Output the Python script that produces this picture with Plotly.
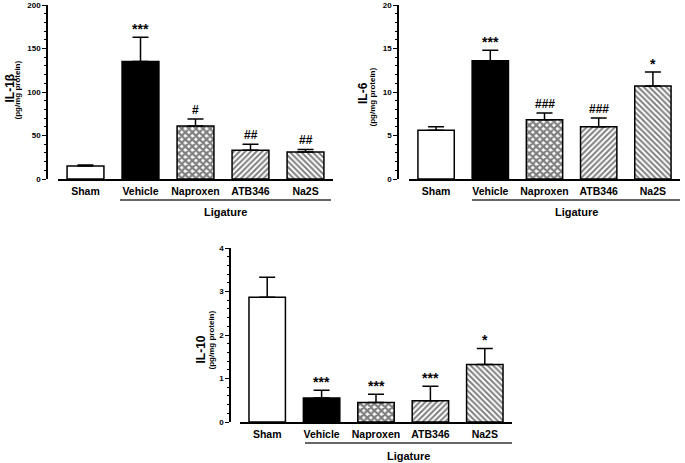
import plotly.graph_objects as go

W, H = 685, 463

categories = ["Sham", "Vehicle", "Naproxen", "ATB346", "Na2S"]

il1b = [15, 135, 61, 33, 31]
il1b_err = [1, 28, 8, 7, 3]
il1b_sig = ["", "***", "#", "##", "##"]

il6 = [5.6, 13.6, 6.8, 6.0, 10.7]
il6_err = [0.4, 1.2, 0.8, 1.0, 1.6]
il6_sig = ["", "***", "###", "###", "*"]

il10 = [2.87, 0.55, 0.45, 0.49, 1.32]
il10_err = [0.46, 0.18, 0.19, 0.33, 0.37]
il10_sig = ["", "***", "***", "***", "*"]

y_titles = ["IL-1β", "IL-6", "IL-10"]
y_ranges = [[0, 200], [0, 20], [0, 4]]
y_dticks = [50, 5, 1]
y_minor = [10, 1, 0.2]
group_label = "Ligature"

FONT = "Liberation Sans, Arial, sans-serif"

def px_x(p):
    return p / W

def px_y(p):
    return 1 - p / H

# panel geometry in window pixels
panels = [
    dict(x0=58, x1=333, yx=47, yt=5, yb=179, lig=(120, 331, 200, 212), ttl=(9.5, 88), sub=(16.5, 90)),
    dict(x0=409, x1=680, yx=398, yt=5, yb=179, lig=(472, 680, 200, 212), ttl=(363, 93), sub=(371.5, 97)),
    dict(x0=240, x1=512, yx=230, yt=248, yb=422, lig=(305, 512, 443, 456), ttl=(200.5, 350), sub=(210.5, 340)),
]

values = [il1b, il6, il10]
errors = [il1b_err, il6_err, il10_err]
sigs = [il1b_sig, il6_sig, il10_sig]

fills = ["white", "black", "white", "white", "white"]
patterns = [
    dict(shape=""),
    dict(shape=""),
    dict(shape="x", size=5, solidity=0.7, fgcolor="black", bgcolor="white"),
    dict(shape="/", size=4, solidity=0.5, fgcolor="black", bgcolor="white"),
    dict(shape="\\", size=4, solidity=0.5, fgcolor="black", bgcolor="white"),
]

fig = go.Figure()
annotations = []
shapes = []

for i, p in enumerate(panels):
    n = "" if i == 0 else str(i + 1)
    xa, ya = "x" + n, "y" + n
    for j, cat in enumerate(categories):
        fig.add_trace(go.Bar(
            x=[cat], y=[values[i][j]],
            xaxis=xa, yaxis=ya,
            width=0.67,
            marker=dict(color=fills[j], line=dict(color="black", width=1.5),
                        pattern=patterns[j]),
            error_y=dict(type="data", symmetric=False, array=[errors[i][j]],
                         arrayminus=[0], color="black", thickness=1.5, width=8),
            showlegend=False, hoverinfo="skip",
        ))
        s = sigs[i][j]
        if s:
            annotations.append(dict(
                x=cat, y=values[i][j] + errors[i][j], xref=xa, yref=ya,
                text="<b>%s</b>" % s, showarrow=False,
                xanchor="center", yanchor="bottom",
                yshift=-2 if s.startswith("*") else 0,
                font=dict(family=FONT, size=14 if s.startswith("*") else 12, color="black")))
    fig.update_layout(**{
        "xaxis" + n: dict(
            domain=[px_x(p["x0"]), px_x(p["x1"])], anchor=ya,
            type="category", range=[-0.5, 4.5],
            showline=True, linecolor="black", linewidth=1.5,
            ticks="", showgrid=False, zeroline=False, automargin=False,
            tickfont=dict(family=FONT, size=10.5, color="black"),
            ticklabelstandoff=2,
            tickvals=categories,
            ticktext=["<b>%s</b>" % c for c in categories],
        ),
        "yaxis" + n: dict(
            domain=[px_y(p["yb"]), px_y(p["yt"])], anchor="free",
            position=px_x(p["yx"]), automargin=False,
            range=y_ranges[i], dtick=y_dticks[i], tick0=0,
            showline=True, linecolor="black", linewidth=1.5,
            ticks="outside", ticklen=4, tickwidth=1.2, tickcolor="black",
            minor=dict(dtick=y_minor[i], ticks="outside", ticklen=2,
                       tickwidth=1, tickcolor="black", showgrid=False),
            showgrid=False, zeroline=False,
            tickfont=dict(family=FONT, size=8, color="black"),
            tickprefix="<b>", ticksuffix="</b>",
        ),
    })
    lx0, lx1, ly, lty = p["lig"]
    shapes.append(dict(type="line", xref="paper", yref="paper",
                       x0=px_x(lx0), x1=px_x(lx1), y0=px_y(ly), y1=px_y(ly),
                       line=dict(color="#333333", width=1.5)))
    annotations.append(dict(x=px_x((lx0 + lx1) / 2), y=px_y(lty), xref="paper", yref="paper",
                            xanchor="center", yanchor="middle",
                            text="<b>%s</b>" % group_label, showarrow=False,
                            font=dict(family=FONT, size=11, color="black")))
    tx, ty = p["ttl"]
    annotations.append(dict(x=px_x(tx), y=px_y(ty), xref="paper", yref="paper",
                            xanchor="center", yanchor="middle",
                            text="<b>%s</b>" % y_titles[i], showarrow=False, textangle=-90,
                            font=dict(family=FONT, size=12, color="black")))
    sx, sy = p["sub"]
    annotations.append(dict(x=px_x(sx), y=px_y(sy), xref="paper", yref="paper",
                            xanchor="center", yanchor="middle",
                            text="<b>(pg/mg protein)</b>", showarrow=False, textangle=-90,
                            font=dict(family=FONT, size=8, color="black")))

fig.update_layout(
    width=W, height=H,
    margin=dict(l=0, r=0, t=0, b=0, autoexpand=False),
    paper_bgcolor="white", plot_bgcolor="white",
    barmode="overlay", hovermode=False,
    annotations=annotations, shapes=shapes,
)

fig.write_html("out.html", config={"displayModeBar": False},
               post_script="document.body.style.margin='0';document.body.style.padding='0';")
